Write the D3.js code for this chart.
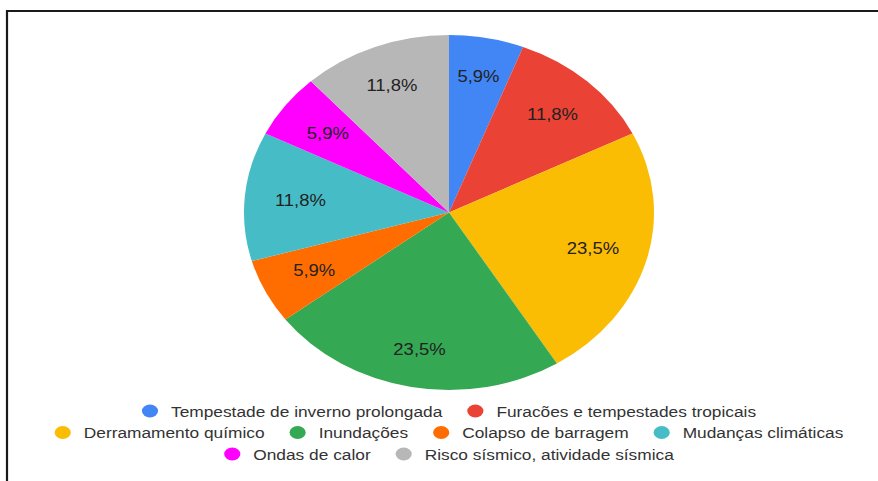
<!DOCTYPE html>
<html>
<head>
<meta charset="utf-8">
<script src="https://cdn.jsdelivr.net/npm/d3@7"></script>
<style>
  body { margin: 0; background: #fff; }
  svg { display: block; }
</style>
</head>
<body>
<svg id="chart" width="878" height="481"></svg>
<script>
// categories, counts and colours (google sheets palette)
var categories = ["Tempestade de inverno prolongada", "Furacões e tempestades tropicais",
                  "Derramamento químico", "Inundações", "Colapso de barragem",
                  "Mudanças climáticas", "Ondas de calor", "Risco sísmico, atividade sísmica"];
var counts = [1, 2, 4, 4, 1, 2, 1, 2];
var colors = ["#4285f4", "#ea4335", "#fbbc04", "#34a853", "#ff6d01", "#46bdc6", "#ff00ff", "#b7b7b7"];

var W = 878, H = 481;
var sx = 1.155; // the picture is stretched sideways
var cx = 449, cy = 212.5, R = 177.5;

var svg = d3.select("#chart");
svg.append("rect").attr("width", W).attr("height", H).attr("fill", "#fff");

// frame around the chart
svg.append("path")
   .attr("d", "M7," + H + "V11H" + W)
   .attr("fill", "none")
   .attr("stroke", "#1a1a1a")
   .attr("stroke-width", 2.2);

var data = categories.map(function(c, i) { return {name: c, value: counts[i], color: colors[i]}; });
var total = d3.sum(counts);

var pie = d3.pie().value(d => d.value).sort(null);
var arc = d3.arc().innerRadius(0).outerRadius(R);
var arcs = pie(data);

var g = svg.append("g").attr("transform", "translate(" + cx + "," + cy + ") scale(" + sx + ",1)");

g.selectAll("path")
 .data(arcs)
 .enter()
 .append("path")
 .attr("d", arc)
 .attr("fill", d => d.data.color);

// percent labels
var fmt = function(v) { return (v * 100).toFixed(1).replace(".", ",") + "%"; };
g.selectAll("text")
 .data(arcs)
 .enter()
 .append("text")
 .attr("x", function(d) {
     var a = (d.startAngle + d.endAngle) / 2;
     var r = R * 0.795 - 12 * Math.abs(Math.sin(a));
     return r * Math.sin(a);
 })
 .attr("y", function(d) {
     var a = (d.startAngle + d.endAngle) / 2;
     var r = R * 0.795 - 12 * Math.abs(Math.sin(a));
     return -r * Math.cos(a);
 })
 .attr("text-anchor", "middle")
 .attr("dominant-baseline", "central")
 .attr("font-family", "Arial, 'Liberation Sans', sans-serif")
 .attr("font-size", "16px")
 .attr("fill", "#222")
 .text(d => fmt(d.data.value / total));

// legend, wrapped into centered rows
var leg = svg.append("g").attr("transform", "scale(" + sx + ",1)");
var maxRow = 700, dotR = 7, dotGap = 18.2, itemGap = 28.6;
var rowY = [411, 432.5, 454];

var items = data.map(function(d) {
    var it = leg.append("g");
    it.append("ellipse")
      .attr("cx", 0).attr("cy", 0)
      .attr("rx", dotR).attr("ry", dotR * 0.93)
      .attr("fill", d.color);
    var t = it.append("text")
      .attr("x", dotGap)
      .attr("y", 0)
      .attr("dominant-baseline", "central")
      .attr("font-family", "Arial, 'Liberation Sans', sans-serif")
      .attr("font-size", "15px")
      .attr("fill", "#333")
      .text(d.name);
    return {node: it, w: dotR + dotGap + t.node().getComputedTextLength()};
});

var rows = [[]], rw = 0;
items.forEach(function(it) {
    var add = (rows[rows.length - 1].length ? itemGap - dotR : 0) + it.w;
    if(rows[rows.length - 1].length && rw + add > maxRow) {
        rows.push([]);
        rw = 0;
        add = it.w;
    }
    rows[rows.length - 1].push(it);
    rw += add;
    it.rowW = rw;
});

rows.forEach(function(row, ri) {
    var width = row[row.length - 1].rowW;
    var x = cx / sx - width / 2 + dotR;
    row.forEach(function(it) {
        it.node.attr("transform", "translate(" + x + "," + rowY[ri] + ")");
        x += it.w + itemGap - dotR;
    });
});
</script>
</body>
</html>
